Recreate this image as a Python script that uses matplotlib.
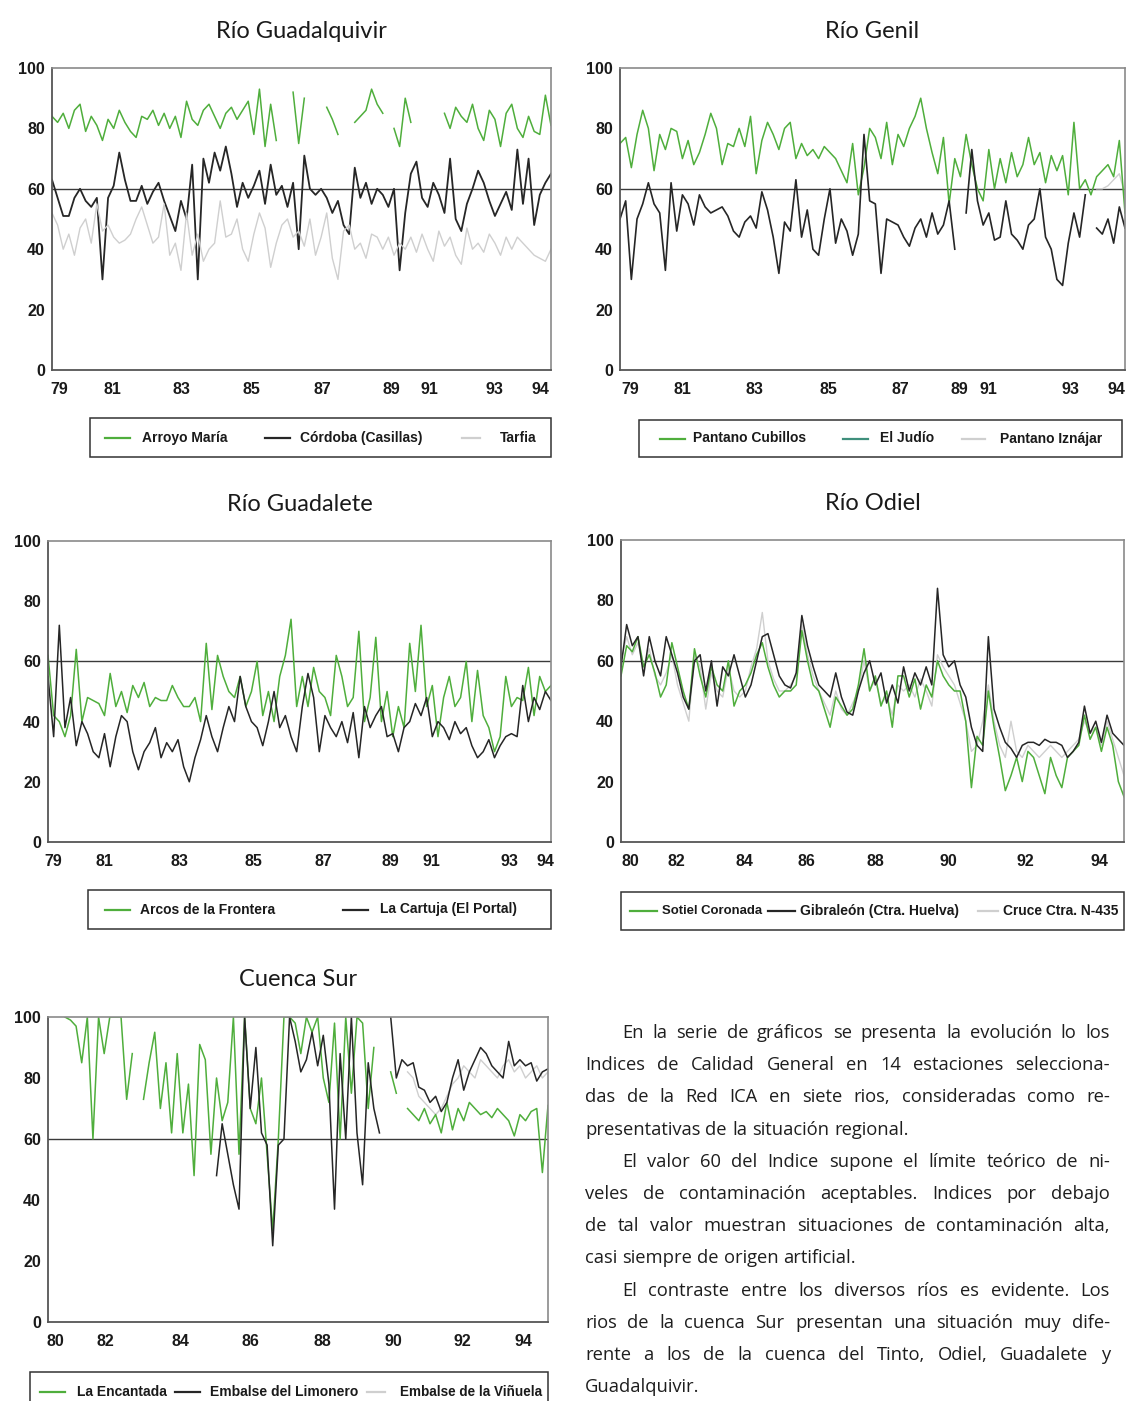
import numpy as np
import matplotlib
matplotlib.use("Agg")
import matplotlib.pyplot as plt
from matplotlib.patches import Rectangle
from matplotlib.lines import Line2D

nan = np.nan
W, H = 1128, 1401

# ---------------- data (~2 samples per month-pair) ----------------
# Río Guadalquivir
guadalquivir_arroyo = [84, 82, 85, 80, 86, 88, 79, 84, 81, 76,
                       83, 80, 86, 82, 79, 77, 84, 83, 86, 81,
                       85, 80, 84, 77, 89, 83, 81, 86, 88, 84,
                       80, 85, 87, 83, 86, 89,
                       78, 93, 74, 88, 76, nan, nan, 92, 75, 90, nan, nan, nan,
                       87, 83, 78, nan, nan, 82, 84, 86, 93, 88, 85, nan,
                       80, 74, 90, 82, nan, nan, nan, nan, nan,
                       85, 80, 87, 84, 82, 88, 80, 76, 86, 83,
                       74, 85, 88, 80, 77, 84, 79, 78, 91, 81]
guadalquivir_cordoba = [63, 57, 51, 51, 57, 60, 56, 54, 57, 30,
                        57, 61, 72, 63, 56, 56, 61, 55, 59, 62,
                        56, 51, 46, 56, 50, 68, 30, 70, 62, 72,
                        66, 74, 65, 54, 62, 57, 61, 66, 55, 68,
                        58, 61, 54, 62, 40, 71, 60, 58, 60, 57,
                        52, 56, 48, 45, 67, 57, 62, 55, 60, 58,
                        54, 60, 33, 52, 65, 69, 57, 54, 62, 58,
                        52, 70, 50, 46, 55, 60, 66, 62, 56, 51,
                        55, 59, 53, 73, 55, 70, 48, 58, 62, 65]
guadalquivir_tarfia = [52, 48, 40, 45, 38, 47, 50, 42, 55, 46, 48,
                       44, 42, 43, 45, 50, 54, 48, 42, 44, 55,
                       38, 42, 33, 52, 38, 45, 36, 40, 42, 56,
                       44, 45, 50, 40, 36, 45, 52, 47, 34, 42,
                       48, 50, 44, 46, 41, 50, 38, 44, 52, 37,
                       30, 46, 48, 40, 42, 37, 45, 44, 40, 44,
                       38, 42, 40, 44, 39, 45, 40, 36, 46, 41,
                       44, 38, 35, 47, 40, 42, 39, 45, 42, 38,
                       44, 40, 44, 42, 40, 38, 37, 36, 40]

# Río Genil
genil_cubillos = [75, 77, 67, 78, 86, 80, 66, 78, 73, 80,
                  79, 70, 76, 68, 72, 78, 85, 80, 68, 75,
                  74, 80, 74, 84, 65, 76, 82, 78, 73, 80,
                  82, 70, 75, 71, 73, 70, 74, 72, 70, 66,
                  62, 75, 58, 67, 80, 77, 70, 82, 68, 78,
                  74, 80, 84, 90, 80, 72, 65, 77, 55, 70,
                  64, 78, 68, 60, 56, 73, 60, 70, 62, 72,
                  64, 68, 77, 68, 72, 62, 71, 66, 71, 58,
                  82, 60, 63, 58, 64, 66, 68, 64, 76, 52]
genil_judio = [50, 56, 30, 50, 55, 62, 55, 52, 33, 62,
               46, 58, 55, 48, 58, 54, 52, 53, 54, 51,
               46, 44, 49, 51, 47, 59, 53, 44, 32, 49,
               46, 63, 44, 53, 40, 38, 50, 60, 42, 50,
               46, 38, 45, 78, 56, 55, 32, 50, 49, 48,
               44, 41, 47, 50, 44, 52, 45, 48, 56, 40,
               nan, 52, 73, 56, 48, 52, 43, 44, 56, 45,
               43, 40, 48, 50, 60, 44, 40, 30, 28, 42,
               52, 44, 58, nan, 47, 45, 50, 42, 54, 47]
genil_iznajar = [nan] * 84 + [60, 60, 61, 63, 65, 58]

# Río Guadalete
guadalete_arcos = [62, 42, 40, 35, 42, 64, 40, 48, 47, 46,
                   42, 56, 45, 50, 43, 52, 48, 53, 45, 48,
                   47, 47, 52, 48, 45, 45, 48, 40, 66, 44,
                   62, 55, 50, 48, 55, 45, 50, 60, 42, 50,
                   40, 55, 62, 74, 45, 55, 45, 58, 50, 48,
                   42, 62, 55, 45, 48, 70, 40, 48, 68, 40,
                   50, 35, 45, 38, 66, 50, 72, 45, 52, 35,
                   48, 55, 45, 48, 60, 40, 57, 42, 38, 30,
                   35, 55, 45, 48, 47, 58, 42, 55, 50, 52]
guadalete_cartuja = [55, 35, 72, 38, 48, 32, 40, 36, 30, 28,
                     36, 25, 35, 42, 40, 30, 24, 30, 33, 38,
                     28, 33, 30, 34, 25, 20, 28, 34, 42, 35,
                     30, 38, 45, 40, 55, 45, 40, 38, 32, 40,
                     50, 38, 42, 35, 30, 45, 56, 48, 30, 42,
                     38, 35, 40, 33, 43, 28, 45, 38, 42, 45,
                     35, 36, 30, 38, 40, 46, 42, 48, 35, 40,
                     38, 34, 40, 36, 38, 32, 28, 30, 34, 28,
                     32, 35, 36, 35, 52, 40, 48, 44, 50, 47]

# Río Odiel
odiel_sotiel = [55, 65, 63, 68, 58, 62, 56, 48, 52, 66,
                58, 50, 44, 64, 55, 48, 58, 52, 50, 60,
                45, 50, 52, 56, 62, 66, 58, 52, 48, 50,
                50, 52, 70, 60, 52, 50, 44, 38, 48, 45,
                42, 44, 52, 64, 50, 55, 45, 50, 38, 55,
                55, 48, 54, 44, 52, 48, 60, 55, 52, 50,
                50, 40, 18, 35, 32, 50, 38, 28, 17, 22,
                28, 20, 30, 28, 22, 16, 28, 22, 18, 28,
                30, 32, 42, 34, 38, 30, 38, 32, 20, 15]
odiel_gibraleon = [58, 72, 65, 68, 55, 68, 60, 55, 68, 62,
                   56, 48, 44, 60, 62, 50, 60, 45, 58, 55,
                   62, 55, 48, 52, 60, 68, 69, 62, 55, 52,
                   51, 56, 75, 65, 58, 52, 50, 48, 56, 48,
                   43, 42, 50, 56, 60, 52, 56, 46, 52, 46,
                   58, 50, 56, 52, 58, 52, 84, 62, 58, 60,
                   52, 48, 38, 32, 30, 68, 44, 38, 33, 31,
                   28, 32, 33, 33, 32, 34, 33, 33, 32, 28,
                   30, 33, 45, 36, 40, 33, 42, 36, 34, 32]
odiel_cruce = [60, 68, 62, 66, 58, 64, 55, 52, 56, 62,
               52, 46, 40, 62, 58, 44, 56, 50, 48, 58,
               50, 48, 50, 58, 64, 76, 60, 54, 50, 50,
               52, 55, 72, 62, 55, 50, 46, 42, 50, 44,
               42, 46, 50, 60, 50, 54, 46, 48, 42, 52,
               50, 52, 48, 54, 50, 45, 62, 58, 55, 52,
               46, 40, 30, 32, 40, 52, 40, 32, 28, 40,
               30, 28, 32, 30, 28, 30, 32, 30, 28, 30,
               32, 34, 40, 36, 38, 32, 40, 34, 28, 22]

# Cuenca Sur
sur_encantada = [nan, nan, nan, 100, 99, 97, 85, 100, 60, 100,
                 88, 100, 100, 100, 73, 88, nan, 73, 85, 95,
                 70, 85, 62, 88, 62, 78, 48, 91, 86, 55,
                 80, 66, 72, 100, 55, 100, 70, 65, 80, 55,
                 30, 60, 100, 100, 98, 88, 100, 95, 100, 80,
                 72, 98, 60, 100, 75, 100, 98, 70, 90, nan,
                 nan, 82, 75, nan, 70, 68, 66, 70, 65, 68,
                 62, 72, 63, 70, 66, 72, 70, 68, 69, 67,
                 70, 68, 66, 61, 68, 66, 69, 70, 49, 71]
sur_limonero = [nan] * 30 + [48, 65, 55, 45, 37, 100, 70, 90, 62, 58,
                             25, 58, 60, 100, 92, 82, 86, 95, 84, 94,
                             78, 37, 88, 60, 100, 62, 45, 85, 70, 62,
                             nan, 100, 80, 86, 84, 85, 77, 76, 72, 74,
                             69, 72, 80, 86, 76, 82, 86, 90, 88, 84,
                             82, 80, 92, 84, 86, 84, 85, 79, 82, 83]
sur_vinuela = [nan] * 64 + [82, 80, 74, 72, 70, 68, 70, 74, 78, 80,
                            84, 82, 80, 86, 84, 82, 80, 84, 86, 82,
                            84, 80, 82, 84, 80, 82]

# tick labels (irregular in the original, positions as fraction of axis width)
ticks_79 = ["79", "81", "83", "85", "87", "89", "91", "93", "94"]
ticks_80 = ["80", "82", "84", "86", "88", "90", "92", "94"]

GREEN = "#4fae3c"
DARK = "#262626"
LIGHT = "#cfcfcf"
TEAL = "#3f8f7c"

panels = [
    dict(title="Río Guadalquivir", box=(52, 68, 551, 370),
         series=[(guadalquivir_arroyo, GREEN, 1.1), (guadalquivir_cordoba, DARK, 1.3),
                 (guadalquivir_tarfia, LIGHT, 1.0)],
         ticks=ticks_79, tpos=[0.014, 0.122, 0.259, 0.399, 0.541, 0.681, 0.756, 0.886, 0.978],
         legend_box=(90, 418, 551, 457),
         legend=[("Arroyo María", GREEN, 105, 130, 142), ("Córdoba (Casillas)", DARK, 265, 290, 300),
                 ("Tarfia", LIGHT, 462, 480, 500)]),
    dict(title="Río Genil", box=(620, 68, 1125, 370),
         series=[(genil_iznajar, LIGHT, 1.0), (genil_cubillos, GREEN, 1.1), (genil_judio, DARK, 1.2)],
         ticks=ticks_79, tpos=[0.020, 0.123, 0.267, 0.412, 0.556, 0.673, 0.729, 0.891, 0.984],
         legend_box=(639, 420, 1122, 457),
         legend=[("Pantano Cubillos", GREEN, 660, 685, 693), ("El Judío", TEAL, 843, 868, 880),
                 ("Pantano Iznájar", LIGHT, 962, 985, 1000)]),
    dict(title="Río Guadalete", box=(48, 541, 551, 842),
         series=[(guadalete_arcos, GREEN, 1.1), (guadalete_cartuja, DARK, 1.1)],
         ticks=ticks_79, tpos=[0.010, 0.113, 0.262, 0.408, 0.547, 0.680, 0.763, 0.917, 0.988],
         legend_box=(88, 890, 551, 929),
         legend=[("Arcos de la Frontera", GREEN, 105, 130, 140),
                 ("La Cartuja (El Portal)", DARK, 343, 368, 380)]),
    dict(title="Río Odiel", box=(621, 540, 1124, 842),
         series=[(odiel_cruce, LIGHT, 1.0), (odiel_sotiel, GREEN, 1.1), (odiel_gibraleon, DARK, 1.1)],
         ticks=ticks_80, tpos=[0.018, 0.111, 0.245, 0.368, 0.505, 0.650, 0.803, 0.952],
         legend_box=(621, 892, 1124, 930),
         legend=[("Sotiel Coronada", GREEN, 630, 657, 662),
                 ("Gibraleón (Ctra. Huelva)", DARK, 768, 795, 800),
                 ("Cruce Ctra. N-435", LIGHT, 978, 998, 1003)]),
    dict(title="Cuenca Sur", box=(48, 1017, 548, 1322),
         series=[(sur_vinuela, LIGHT, 1.0), (sur_encantada, GREEN, 1.1), (sur_limonero, DARK, 1.1)],
         ticks=ticks_80, tpos=[0.014, 0.114, 0.264, 0.404, 0.548, 0.690, 0.828, 0.950],
         legend_box=(30, 1372, 548, 1412),
         legend=[("La Encantada", GREEN, 40, 65, 77), ("Embalse del Limonero", DARK, 175, 200, 210),
                 ("Embalse de la Viñuela", LIGHT, 367, 385, 400)]),
]

paragraph = [
    ("En la serie de gráficos se presenta la evolución lo los", True, True),
    ("Indices de Calidad General en 14 estaciones selecciona-", False, True),
    ("das de la Red ICA en siete rios, consideradas como re-", False, True),
    ("presentativas de la situación regional.", False, False),
    ("El valor 60 del Indice supone el límite teórico de ni-", True, True),
    ("veles de contaminación aceptables. Indices por debajo", False, True),
    ("de tal valor muestran situaciones de contaminación alta,", False, True),
    ("casi siempre de origen artificial.", False, False),
    ("El contraste entre los diversos ríos es evidente. Los", True, True),
    ("rios de la cuenca Sur presentan una situación muy dife-", False, True),
    ("rente a los de la cuenca del Tinto, Odiel, Guadalete y", False, True),
    ("Guadalquivir.", False, False),
]

TICK_FONT = ["Liberation Sans", "DejaVu Sans"]
LEG_FONT = ["Liberation Sans", "DejaVu Sans"]
TITLE_FONT = ["Lato", "DejaVu Sans"]
BODY_FONT = ["Open Sans", "DejaVu Sans"]


def fx(x):
    return x / W


def fy(y):
    return 1 - y / H


fig = plt.figure(figsize=(W / 100, H / 100), dpi=100)
fig.patch.set_facecolor("white")
renderer = fig.canvas.get_renderer()

for p in panels:
    l, t, r, b = p["box"]
    ax = fig.add_axes([fx(l), fy(b), (r - l) / W, (b - t) / H])
    n = max(len(s[0]) for s in p["series"])
    for vals, col, lw in p["series"]:
        ax.plot(np.arange(len(vals)), vals, color=col, lw=lw)
    ax.axhline(60, color="#3a3a3a", lw=1.0, zorder=1)
    ax.set_xlim(0, n - 1)
    ax.set_ylim(0, 100)
    ax.set_yticks([0, 20, 40, 60, 80, 100])
    ax.set_yticklabels(["0", "20", "40", "60", "80", "100"], family=TICK_FONT,
                       fontweight="bold", fontsize=11.5)
    ax.set_xticks([f * (n - 1) for f in p["tpos"]])
    ax.set_xticklabels(p["ticks"], family=TICK_FONT, fontweight="bold", fontsize=11.5)
    ax.tick_params(axis="both", length=0, colors="#1a1a1a")
    ax.tick_params(axis="x", pad=9)
    ax.tick_params(axis="y", pad=5)
    for side in ["top", "right"]:
        ax.spines[side].set_color("#8a8a8a")
        ax.spines[side].set_linewidth(1.2)
    for side in ["left", "bottom"]:
        ax.spines[side].set_color("#555555")
        ax.spines[side].set_linewidth(1.3)

    fig.text(fx((l + r) / 2), fy(t - 37), p["title"], ha="center", va="center",
             family=TITLE_FONT, fontsize=17, color="#1a1a1a")

    # legend box drawn by hand to follow the original spacing
    x0, y0, x1, y1 = p["legend_box"]
    fig.add_artist(Rectangle((fx(x0), fy(y1)), (x1 - x0) / W, (y1 - y0) / H,
                             transform=fig.transFigure, fill=False, ec="#333333", lw=1.1))
    yc = (y0 + y1) / 2
    entries = p["legend"]
    for k, (label, col, lx0, lx1, tx) in enumerate(entries):
        fig.add_artist(Line2D([fx(lx0), fx(lx1)], [fy(yc), fy(yc)], transform=fig.transFigure,
                              color=col, lw=1.6))
        limit = entries[k + 1][2] - 6 if k + 1 < len(entries) else x1 - 6
        txt = fig.text(fx(tx), fy(yc), label, va="center", ha="left", family=LEG_FONT,
                       fontweight="bold", fontsize=10, color="#1a1a1a")
        wd = txt.get_window_extent(renderer).width
        if wd > limit - tx:
            txt.set_fontsize(10 * (limit - tx) / wd)

# justified paragraph at the bottom right
TEXT_LEFT, TEXT_RIGHT, INDENT = 585, 1110, 37
line_y = 1033
for line, indent, justify in paragraph:
    words = line.split(" ")
    x_start = TEXT_LEFT + (INDENT if indent else 0)
    items = [fig.text(0, 0, w, family=BODY_FONT, fontsize=13.2, color="#1e1e1e", va="center")
             for w in words]
    widths = [it.get_window_extent(renderer).width for it in items]
    if justify and len(words) > 1:
        gap = (TEXT_RIGHT - x_start - sum(widths)) / (len(words) - 1)
    else:
        gap = 5
    x = x_start
    for it, wd in zip(items, widths):
        it.set_position((fx(x), fy(line_y)))
        x += wd + gap
    line_y += 32.2

fig.savefig("out.png", dpi=100, facecolor="white")
